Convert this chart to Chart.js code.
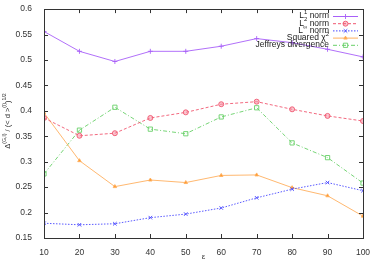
<!DOCTYPE html>
<html>
<head>
<meta charset="utf-8">
<script src="https://cdn.jsdelivr.net/npm/chart.js@4.4.0/dist/chart.umd.min.js"></script>
<style>
  html, body { margin: 0; padding: 0; background: #fff; }
  #wrap { width: 374px; height: 262px; }
</style>
</head>
<body>
<div id="wrap"><canvas id="myChart"></canvas></div>
<script>
let eps = [10, 20, 30, 40, 50, 60, 70, 80, 90, 100];
let l1Norm = [0.556, 0.517, 0.497, 0.517, 0.517, 0.527, 0.542, 0.534, 0.521, 0.506];
let l2Norm = [0.386, 0.351, 0.356, 0.386, 0.397, 0.413, 0.418, 0.403, 0.390, 0.380];
let lInfNorm = [0.179, 0.176, 0.178, 0.190, 0.197, 0.209, 0.229, 0.246, 0.259, 0.243];
let chiSq = [0.396, 0.302, 0.251, 0.264, 0.259, 0.273, 0.274, 0.249, 0.233, 0.193];
let jeffreys = [0.276, 0.362, 0.407, 0.364, 0.355, 0.388, 0.406, 0.337, 0.308, 0.258];
let yTicks = [0.15, 0.2, 0.25, 0.3, 0.35, 0.4, 0.45, 0.5, 0.55, 0.6];

const FONT = "Liberation Sans, Arial, sans-serif";

function series(label, values, color, dash, style, radius, fill) {
  return {
    label: label,
    data: eps.map((e, i) => ({ x: e, y: values[i] })),
    borderColor: color,
    backgroundColor: fill,
    borderWidth: 0.9,
    borderDash: dash,
    pointStyle: style,
    pointRadius: radius,
    pointBorderColor: color,
    pointBackgroundColor: fill,
    pointBorderWidth: 0.9,
    tension: 0,
  };
}

const datasets = [
  series("L|1| norm", l1Norm, "#a860f8", [], "cross", 2.5, "#a860f8"),
  series("L|2| norm", l2Norm, "#f05870", [3, 2], "circle", 2.5, "rgba(245,140,160,0.5)"),
  series("L|\u221e| norm", lInfNorm, "#4848ff", [1.5, 1.5], "crossRot", 2.5, "#4848ff"),
  series("Squared \u03c7|2|", chiSq, "#ffb060", [], "triangle", 2, "#ff9828"),
  series("Jeffreys divergence", jeffreys, "#68d068", [4, 2, 1, 2], "rect", 3, "rgba(0,0,0,0)"),
];

// draws "base|sup|rest" pieces with superscripts
function drawRich(ctx, text, x, y, size, align) {
  const parts = text.split("|");
  let w = 0;
  const sizes = parts.map((p, i) => (i % 2 ? size * 0.7 : size));
  parts.forEach((p, i) => { ctx.font = sizes[i] + "px " + FONT; w += ctx.measureText(p).width; });
  let cx = align === "right" ? x - w : align === "center" ? x - w / 2 : x;
  ctx.textAlign = "left";
  ctx.textBaseline = "middle";
  parts.forEach((p, i) => {
    ctx.font = sizes[i] + "px " + FONT;
    ctx.fillText(p, cx, i % 2 ? y - size * 0.4 : y);
    cx += ctx.measureText(p).width;
  });
}

const framePlugin = {
  id: "frame",
  afterDatasetsDraw(chart) {
    // legend markers
    const ctx = chart.ctx;
    datasets.forEach((d, i) => {
      const y = 16.5 + i * 7.2;
      ctx.save();
      ctx.strokeStyle = d.borderColor;
      ctx.fillStyle = d.pointBackgroundColor;
      ctx.lineWidth = 0.9;
      Chart.helpers.drawPoint(ctx, { pointStyle: d.pointStyle, radius: d.pointRadius, borderWidth: 0.9 }, 345.5, y);
      ctx.restore();
    });
  },
  afterDraw(chart) {
    const ctx = chart.ctx;
    const a = chart.chartArea;
    const xs = chart.scales.x, ys = chart.scales.y;
    ctx.save();
    ctx.strokeStyle = "#333";
    ctx.lineWidth = 1;
    ctx.strokeRect(Math.round(a.left) + 0.5, Math.round(a.top) + 0.5, Math.round(a.right - a.left), Math.round(a.bottom - a.top));
    ctx.beginPath();
    eps.forEach(v => {
      const px = Math.round(xs.getPixelForValue(v)) + 0.5;
      ctx.moveTo(px, a.bottom); ctx.lineTo(px, a.bottom - 4);
      ctx.moveTo(px, a.top); ctx.lineTo(px, a.top + 4);
    });
    yTicks.forEach(v => {
      const py = Math.round(ys.getPixelForValue(v)) + 0.5;
      ctx.moveTo(a.left, py); ctx.lineTo(a.left + 4, py);
      ctx.moveTo(a.right, py); ctx.lineTo(a.right - 4, py);
    });
    ctx.stroke();

    // legend
    ctx.fillStyle = "#222";
    datasets.forEach((d, i) => {
      const y = 16 + i * 7.2;
      drawRich(ctx, d.label, 329, y, 8.5, "right");
      ctx.strokeStyle = d.borderColor;
      ctx.setLineDash(d.borderDash);
      ctx.beginPath();
      ctx.moveTo(333, y + 0.5); ctx.lineTo(358, y + 0.5);
      ctx.stroke();
      ctx.setLineDash([]);
    });

    // y title
    ctx.translate(8, 121);
    ctx.rotate(-Math.PI / 2);
    ctx.fillStyle = "#333";
    drawRich(ctx, "\u0394|(G,l)| / (< d >|(l)|)|1/2|", 0, 0, 7.5, "center");
    ctx.restore();
  },
};

const config = {
  type: "line",
  data: { datasets: datasets },
  options: {
    responsive: false,
    animation: false,
    layout: { padding: { top: 9, right: 11, left: 0, bottom: 0 } },
    plugins: { legend: { display: false }, tooltip: { enabled: false } },
    scales: {
      x: {
        type: "linear",
        min: 10, max: 100,
        grid: { display: false },
        border: { display: false },
        afterFit(s) { s.height = 24; },
        afterBuildTicks(s) { s.ticks = eps.map(v => ({ value: v })); },
        ticks: { color: "#333", font: { family: FONT, size: 8.5 }, padding: 2, maxRotation: 0 },
        title: { display: true, text: "\u03b5", color: "#333", font: { family: FONT, size: 8 }, padding: { top: 2, bottom: 0 } },
      },
      y: {
        min: 0.15, max: 0.6,
        grid: { display: false },
        border: { display: false },
        afterFit(s) { s.width = 44; },
        afterBuildTicks(s) { s.ticks = yTicks.map(v => ({ value: v })); },
        ticks: {
          color: "#333", font: { family: FONT, size: 8.5 }, padding: 4,
          callback: v => String(Number(v.toFixed(2))),
        },
      },
    },
  },
  plugins: [framePlugin],
};

const c = document.getElementById("myChart");
c.width = 374; c.height = 262;
const myChart = new Chart(c, config);
</script>
</body>
</html>
